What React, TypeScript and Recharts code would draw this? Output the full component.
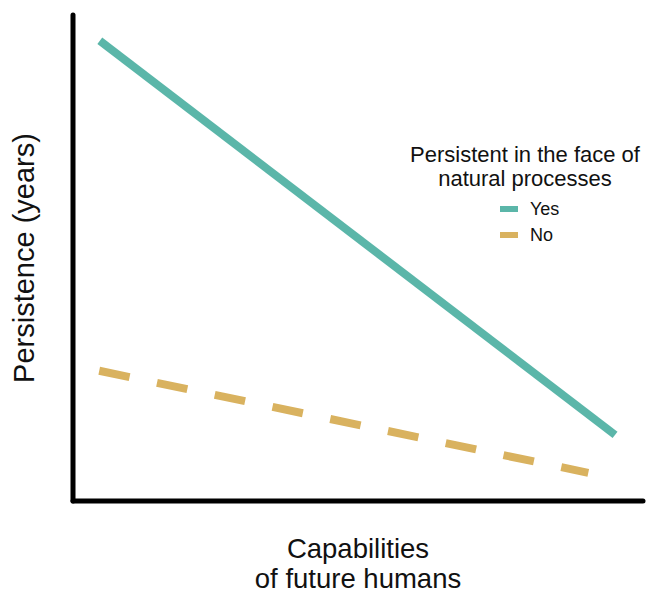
import React from 'react';
import { LineChart, Line, XAxis, YAxis, Legend, Label } from 'recharts';

// values (x: 0..10 capability, y: 0..100 persistence)
const yesCapability = [0.47, 9.51];
const yesPersistence = [94.7, 13.6];
const noCapability = [0.46, 9.04];
const noPersistence = [26.8, 5.8];

const legendTitle = ['Persistent in the face of', 'natural processes'];
const seriesNames = ['Yes', 'No'];
const xTitle = ['Capabilities', 'of future humans'];

const COLORS = ['#5bb6a9', '#d9b25f'];
const FONT = '"Liberation Sans", Arial, Helvetica, sans-serif';

const yesData = yesCapability.map((x, i) => ({ x, y: yesPersistence[i] }));
const noData = noCapability.map((x, i) => ({ x, y: noPersistence[i] }));

const LegendBox = () => (
  <div style={{ fontFamily: FONT, color: '#111', width: 250 }}>
    <div style={{ fontSize: 22, lineHeight: '24px', textAlign: 'center' }}>
      {legendTitle.map((t) => (
        <div key={t}>{t}</div>
      ))}
    </div>
    <div style={{ marginTop: 5, marginLeft: 100 }}>
      {seriesNames.map((name, i) => (
        <div key={name} style={{ display: 'flex', alignItems: 'center', height: 26 }}>
          <span style={{ width: 18, height: 6, background: COLORS[i], display: 'inline-block' }} />
          <span style={{ fontSize: 18, marginLeft: 12 }}>{name}</span>
        </div>
      ))}
    </div>
  </div>
);

const XLabel = ({ viewBox }: any) => {
  const cx = viewBox.x + viewBox.width / 2;
  return (
    <g fontFamily={FONT} fontSize={27.5} fill="#111" textAnchor="middle">
      <text x={cx} y={558}>{xTitle[0]}</text>
      <text x={cx} y={588}>{xTitle[1]}</text>
    </g>
  );
};

export default function App() {
  return (
    <div style={{ position: 'absolute', left: 0, top: 0, background: '#fff' }}>
      <LineChart width={656} height={594} margin={{ top: 15, right: 13, bottom: 92, left: 72 }}>
        <XAxis
          type="number"
          dataKey="x"
          domain={[0, 10]}
          height={1}
          tick={false}
          tickLine={false}
          axisLine={{ stroke: '#000', strokeWidth: 5, strokeLinecap: 'round' }}
        >
          <Label content={<XLabel />} />
        </XAxis>
        <YAxis
          type="number"
          dataKey="y"
          domain={[0, 100]}
          width={1}
          tick={false}
          tickLine={false}
          axisLine={{ stroke: '#000', strokeWidth: 5, strokeLinecap: 'round' }}
        >
          <Label
            value="Persistence (years)"
            angle={-90}
            position="center"
            dx={-49}
            style={{ fontFamily: FONT, fontSize: 29, fill: '#111', textAnchor: 'middle' }}
          />
        </YAxis>
        <Legend
          layout="horizontal"
          verticalAlign="middle"
          align="center"
          content={<LegendBox />}
          wrapperStyle={{ position: 'absolute', left: 400, top: 143, width: 250 }}
        />
        <Line
          data={yesData}
          dataKey="y"
          name="Yes"
          stroke={COLORS[0]}
          strokeWidth={8}
          dot={false}
          isAnimationActive={false}
        />
        <Line
          data={noData}
          dataKey="y"
          name="No"
          stroke={COLORS[1]}
          strokeWidth={8}
          strokeDasharray="31 28"
          dot={false}
          isAnimationActive={false}
        />
      </LineChart>
    </div>
  );
}
